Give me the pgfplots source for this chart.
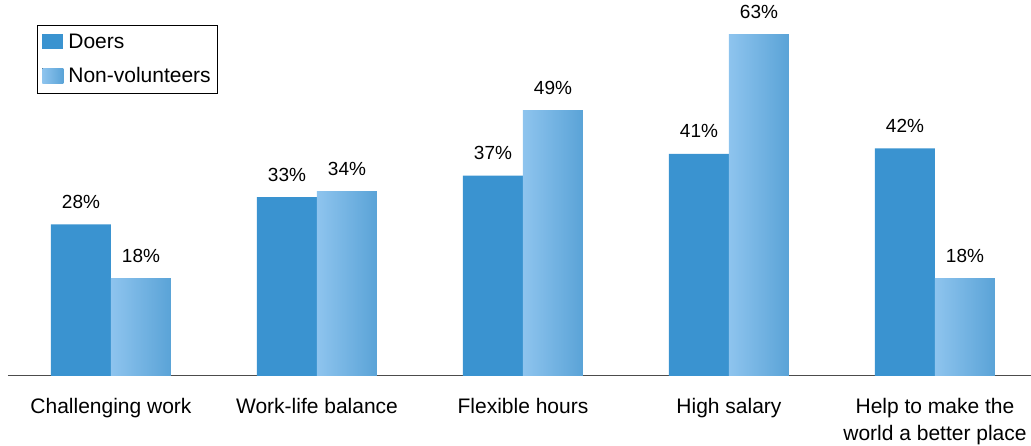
\documentclass[border=0pt]{standalone}
\usepackage{pgfplots}
\pgfplotsset{compat=1.18}
\usepackage{fontspec}
\setmainfont{Liberation Sans}
\definecolor{doers}{HTML}{3A93D0}
\definecolor{nonL}{HTML}{8EC4EE}
\definecolor{nonR}{HTML}{5AA3D7}
\begin{document}
\fontsize{19}{23}\selectfont
\begin{tikzpicture}
\begin{axis}[
  at={(0,0)}, anchor=south west,
  scale only axis,
  width=1030pt, height=376pt,
  xmin=-0.5, xmax=4.5,
  ymin=0, ymax=69.4,
  axis x line*=bottom,
  axis y line=none,
  x axis line style={draw=black!70, line width=1pt, -},
  xtick={0,1,2,3,4},
  xticklabels={Challenging work, Work-life balance, Flexible hours, High salary, {Help to make the\\world a better place}},
  xticklabel style={align=center, font=\fontsize{21}{27}\selectfont, yshift=-16pt},
  major tick length=0pt,
  /pgf/number format/assume math mode=true,
  ybar=0pt, bar width=60pt,
  nodes near coords={\pgfmathprintnumber{\pgfplotspointmeta}\%},
  every node near coord/.append style={font=\fontsize{19}{23}\selectfont, anchor=base, yshift=16pt, text=black},
  legend style={at={(rel axis cs:0.028,0.933)}, anchor=north west, draw=black, line width=1pt,
    font=\fontsize{21}{25}\selectfont, row sep=12pt, inner xsep=5pt, inner ysep=6pt, cells={anchor=west}},
  legend image code/.code={\fill[#1] (1pt,-7pt) rectangle (22pt,8pt);},
  legend cell align=left,
]
\addplot[fill=doers, draw=none, bar shift=-30pt] coordinates {(0,28) (1,33) (2,37) (3,41) (4,42)};
\addplot[left color=nonL, right color=nonR, draw=none, bar shift=30pt] coordinates {(0,18)};
\addplot[left color=nonL, right color=nonR, draw=none, bar shift=30pt, forget plot] coordinates {(1,34)};
\addplot[left color=nonL, right color=nonR, draw=none, bar shift=30pt, forget plot] coordinates {(2,49)};
\addplot[left color=nonL, right color=nonR, draw=none, bar shift=30pt, forget plot] coordinates {(3,63)};
\addplot[left color=nonL, right color=nonR, draw=none, bar shift=30pt, forget plot] coordinates {(4,18)};
\legend{\hspace{3pt}Doers, \hspace{3pt}Non-volunteers}
\end{axis}
\pgfresetboundingbox
\path (-8pt,-70pt) rectangle (1023pt,376pt);
\end{tikzpicture}
\end{document}
